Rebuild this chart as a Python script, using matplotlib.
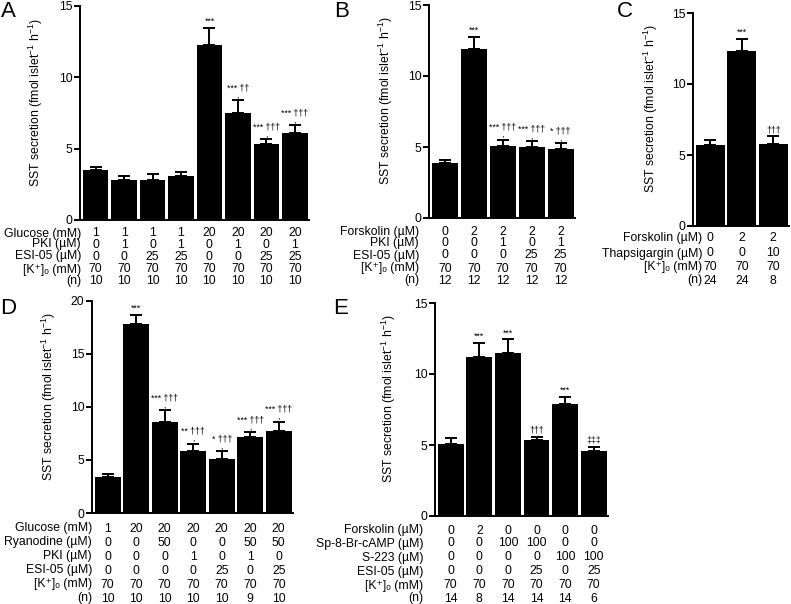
import numpy as np
import matplotlib
matplotlib.use('Agg')
import matplotlib.pyplot as plt

plt.rcParams['font.family'] = ['Liberation Sans', 'DejaVu Sans']
plt.rcParams['mathtext.fontset'] = 'custom'
plt.rcParams['mathtext.rm'] = 'Liberation Sans'
plt.rcParams['mathtext.it'] = 'Liberation Sans:italic'

W, H = 791, 604
K = '[K\u207a]\u2092 (mM)'
YLAB = 'SST secretion (fmol islet$^{-1}$ h$^{-1}$)'

# A
a_mean = [3.5, 2.8, 2.8, 3.05, 12.25, 7.5, 5.3, 6.1]
a_err = [0.25, 0.3, 0.4, 0.33, 1.2, 0.9, 0.37, 0.55]
a_sig = ['', '', '', '', '***', '***,††', '***,†††', '***,†††']
a_rows = ['Glucose (mM)', 'PKI (µM)', 'ESI-05 (µM)', K, '(n)']
a_vals = [[1, 1, 1, 1, 20, 20, 20, 20],
          [0, 1, 0, 1, 0, 1, 0, 1],
          [0, 0, 25, 25, 0, 0, 25, 25],
          [70, 70, 70, 70, 70, 70, 70, 70],
          [10, 10, 10, 10, 10, 10, 10, 10]]

# B
b_mean = [3.86, 11.87, 5.08, 5.03, 4.85]
b_err = [0.24, 0.9, 0.42, 0.36, 0.42]
b_sig = ['', '***', '***,†††', '***,†††', '*,†††']
b_rows = ['Forskolin (µM)', 'PKI (µM)', 'ESI-05 (µM)', K, '(n)']
b_vals = [[0, 2, 2, 2, 2],
          [0, 0, 1, 0, 1],
          [0, 0, 0, 25, 25],
          [70, 70, 70, 70, 70],
          [12, 12, 12, 12, 12]]

# C
c_mean = [5.73, 12.32, 5.8]
c_err = [0.35, 0.83, 0.51]
c_sig = ['', '***', '†††']
c_rows = ['Forskolin (µM)', 'Thapsigargin (µM)', K, '(n)']
c_vals = [[0, 2, 2],
          [0, 0, 10],
          [70, 70, 70],
          [24, 24, 8]]

# D
d_mean = [3.39, 17.83, 8.54, 5.81, 5.09, 7.16, 7.75]
d_err = [0.31, 0.88, 1.13, 0.72, 0.72, 0.44, 0.88]
d_sig = ['', '***', '***,†††', '**,†††', '*,†††', '***,†††', '***,†††']
d_rows = ['Glucose (mM)', 'Ryanodine (µM)', 'PKI (µM)', 'ESI-05 (µM)', K, '(n)']
d_vals = [[1, 20, 20, 20, 20, 20, 20],
          [0, 0, 50, 0, 0, 50, 50],
          [0, 0, 0, 1, 0, 1, 0],
          [0, 0, 0, 0, 25, 0, 25],
          [70, 70, 70, 70, 70, 70, 70],
          [10, 10, 10, 10, 10, 9, 10]]

# E
e_mean = [5.06, 11.2, 11.5, 5.32, 7.87, 4.59]
e_err = [0.42, 0.99, 0.94, 0.26, 0.54, 0.28]
e_sig = ['', '***', '***', '†††', '***', '‡‡‡']
e_rows = ['Forskolin (µM)', 'Sp-8-Br-cAMP (µM)', 'S-223 (µM)', 'ESI-05 (µM)', K, '(n)']
e_vals = [[0, 2, 0, 0, 0, 0],
          [0, 0, 100, 100, 0, 0],
          [0, 0, 0, 0, 100, 100],
          [0, 0, 0, 25, 0, 25],
          [70, 70, 70, 70, 70, 70],
          [14, 8, 14, 14, 14, 6]]

fig = plt.figure(figsize=(W / 100, H / 100), dpi=100)
FS = 8.8


def panel(box, mean, err, sig, rows, vals, ymax, row_y, lab_x, letter, let_xy,
          ylab_dx, bw=0.9):
    l, t, r, b = box
    ax = fig.add_axes([l / W, 1 - b / H, (r - l) / W, (b - t) / H])
    x = np.arange(len(mean))
    ax.bar(x, mean, width=bw, color='black',
           yerr=[np.zeros(len(err)), err],
           error_kw=dict(ecolor='black', elinewidth=1.4, capsize=4, capthick=1.4))
    ax.set_xlim(-0.55, len(mean) - 0.5)
    ax.set_ylim(0, ymax)
    ax.set_yticks(np.arange(0, ymax + 1, 5))
    ax.set_xticks([])
    for s in ['top', 'right']:
        ax.spines[s].set_visible(False)
    for s in ['left', 'bottom']:
        ax.spines[s].set_linewidth(1.4)
    ax.tick_params(axis='y', length=4, width=1.4, pad=1.5, labelsize=FS)
    ax.set_ylabel(YLAB, fontsize=FS)
    ax.yaxis.set_label_coords(-ylab_dx / (r - l), 0.55)

    for i, (m, e, s) in enumerate(zip(mean, err, sig)):
        if not s:
            continue
        if ',' in s:
            s1, s2 = s.split(',')
            ax.annotate(s1 + ' ' + s2 + '\n,', (i, m + e), xytext=(0, 0.5),
                        textcoords='offset points', ha='center', va='bottom',
                        multialignment='center', linespacing=0.75, fontsize=6.3)
        else:
            ax.annotate(s, (i, m + e), xytext=(0, 1.5), textcoords='offset points',
                        ha='center', va='bottom', fontsize=6.3)

    tr = matplotlib.transforms.blended_transform_factory(ax.transData, fig.transFigure)
    for row, vs, y in zip(rows, vals, row_y):
        fig.text(lab_x / W, 1 - y / H, row, ha='right', va='center_baseline', fontsize=FS)
        for i, v in enumerate(vs):
            ax.text(i, 1 - y / H, str(v), transform=tr, ha='center',
                    va='center_baseline', fontsize=FS, clip_on=False)
    fig.text(let_xy[0] / W, 1 - let_xy[1] / H, letter, fontsize=16, ha='left', va='top')
    return ax


panel((80, 6, 309, 220), a_mean, a_err, a_sig, a_rows, a_vals, 15,
      [232, 243, 255, 268, 280], 81, 'A', (1, 1), 35)
panel((429, 5, 575, 218), b_mean, b_err, b_sig, b_rows, b_vals, 15,
      [230, 242, 254, 267, 279], 419, 'B', (334, 1), 34)
panel((693, 13, 789, 226), c_mean, c_err, c_sig, c_rows, c_vals, 15,
      [237, 252, 266, 279], 702, 'C', (617, 1), 33, bw=0.93)
panel((92, 301, 293, 513), d_mean, d_err, d_sig, d_rows, d_vals, 20,
      [527, 541, 555, 569, 583, 597], 92, 'D', (0, 298), 34)
panel((435, 303, 608, 516), e_mean, e_err, e_sig, e_rows, e_vals, 15,
      [529, 542, 556, 570, 584, 597], 423, 'E', (333, 298), 37)

fig.savefig('out.png', dpi=100)
